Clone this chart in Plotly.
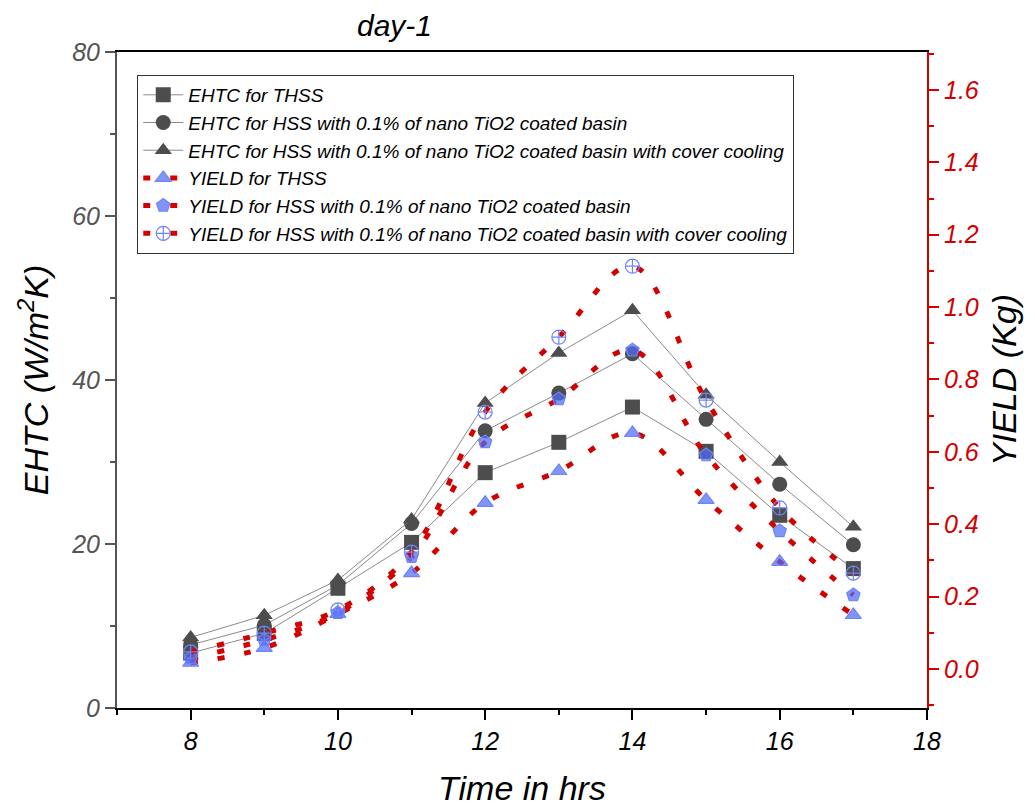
import plotly.graph_objects as go

hours = [8, 9, 10, 11, 12, 13, 14, 15, 16, 17]

ehtc_thss = [6.7, 9.1, 14.6, 20.2, 28.7, 32.4, 36.7, 31.3, 23.5, 17.0]
ehtc_hss_tio2 = [7.7, 10.1, 15.0, 22.5, 33.8, 38.4, 43.2, 35.2, 27.3, 19.9]
ehtc_hss_tio2_cc = [8.6, 11.3, 15.6, 23.0, 37.2, 43.3, 48.5, 38.2, 30.0, 22.1]

yield_thss = [0.017, 0.058, 0.152, 0.265, 0.459, 0.547, 0.652, 0.467, 0.296, 0.149]
yield_hss_tio2 = [0.030, 0.080, 0.155, 0.310, 0.627, 0.746, 0.881, 0.591, 0.381, 0.204]
yield_hss_tio2_cc = [0.047, 0.099, 0.163, 0.323, 0.710, 0.917, 1.113, 0.743, 0.445, 0.265]

ehtc_names = ["EHTC for THSS",
              "EHTC for HSS with 0.1% of nano TiO2 coated basin",
              "EHTC for HSS with 0.1% of nano TiO2 coated basin with cover cooling"]
yield_names = ["YIELD for THSS",
               "YIELD for HSS with 0.1% of nano TiO2 coated basin",
               "YIELD for HSS with 0.1% of nano TiO2 coated basin with cover cooling"]

FONT = "Arial, Liberation Sans, sans-serif"
DARK = "#4d4d4d"
BLUE_FILL = "rgba(80,108,246,0.72)"
BLUE_LINE = "#6f84f7"
RED = "#d30000"

fig = go.Figure()

for vals, name, sym in zip([ehtc_thss, ehtc_hss_tio2, ehtc_hss_tio2_cc], ehtc_names,
                           ["square", "circle", "triangle-up"]):
    fig.add_trace(go.Scatter(
        x=hours, y=vals, name=name, mode="lines+markers",
        line=dict(color="#8a8a8a", width=1),
        marker=dict(symbol=sym, size=15, color=DARK, line=dict(width=0)),
        yaxis="y"))

for vals, name, sym, fill in zip([yield_thss, yield_hss_tio2, yield_hss_tio2_cc], yield_names,
                                 ["triangle-up", "pentagon", "circle-cross-open"],
                                 [BLUE_FILL, BLUE_FILL, BLUE_LINE]):
    fig.add_trace(go.Scatter(
        x=hours, y=vals, name=name, mode="lines+markers",
        line=dict(color=RED, width=5, dash="7px,20px", shape="spline", smoothing=1.0),
        marker=dict(symbol=sym, size=14, color=fill, line=dict(color=BLUE_LINE, width=1.2)),
        yaxis="y2"))

fig.update_layout(
    width=1035, height=810,
    margin=dict(l=117, r=108, t=52, b=102),
    paper_bgcolor="white", plot_bgcolor="white",
    font=dict(family=FONT, color="black"),
    showlegend=True,
    legend=dict(
        x=0.025, y=0.965, xanchor="left", yanchor="top",
        bgcolor="white", bordercolor="#333333", borderwidth=1,
        font=dict(family=FONT, size=19, color="black", style="italic"),
        itemwidth=40, tracegroupgap=0,
    ),
    xaxis=dict(
        range=[7, 18], tick0=0, dtick=2, automargin=False,
        showline=True, linecolor="black", linewidth=2, mirror=True,
        ticks="outside", ticklen=10, tickwidth=2, tickcolor="black",
        minor=dict(ticks="outside", ticklen=5, tickwidth=2, tickcolor="black", dtick=1, tick0=0),
        showgrid=False, zeroline=False,
        tickfont=dict(family=FONT, size=25, color="black", style="italic"),
        title=dict(text="Time in hrs", standoff=22,
                   font=dict(family=FONT, size=34, color="black", style="italic")),
    ),
    yaxis=dict(
        range=[0, 80], tick0=0, dtick=20, automargin=False,
        showline=True, linecolor="#555555", linewidth=2, mirror=False,
        ticks="outside", ticklen=10, tickwidth=2, tickcolor="#555555",
        minor=dict(ticks="outside", ticklen=5, tickwidth=2, tickcolor="#555555", dtick=10, tick0=0),
        showgrid=False, zeroline=False,
        tickfont=dict(family=FONT, size=25, color="#555555", style="italic"),
        title=dict(text="EHTC (W/m<sup>2</sup>K)", standoff=12,
                   font=dict(family=FONT, size=34, color="black", style="italic")),
    ),
    yaxis2=dict(
        overlaying="y", side="right", anchor="x", automargin=False,
        range=[-0.108, 1.705], tick0=0, dtick=0.2, tickformat=".1f",
        showline=True, linecolor=RED, linewidth=2,
        ticks="outside", ticklen=10, tickwidth=2, tickcolor=RED,
        minor=dict(ticks="outside", ticklen=5, tickwidth=2, tickcolor=RED, dtick=0.1, tick0=0),
        showgrid=False, zeroline=False,
        tickfont=dict(family=FONT, size=25, color=RED, style="italic"),
        title=dict(text="YIELD (Kg)", standoff=14,
                   font=dict(family=FONT, size=34, color="black", style="italic")),
    ),
    annotations=[dict(
        text="day-1", xref="paper", yref="paper", x=0.343, y=1.041,
        xanchor="center", yanchor="middle", showarrow=False,
        font=dict(family=FONT, size=30, color="black", style="italic"))],
)

fig.write_html("out.html")
